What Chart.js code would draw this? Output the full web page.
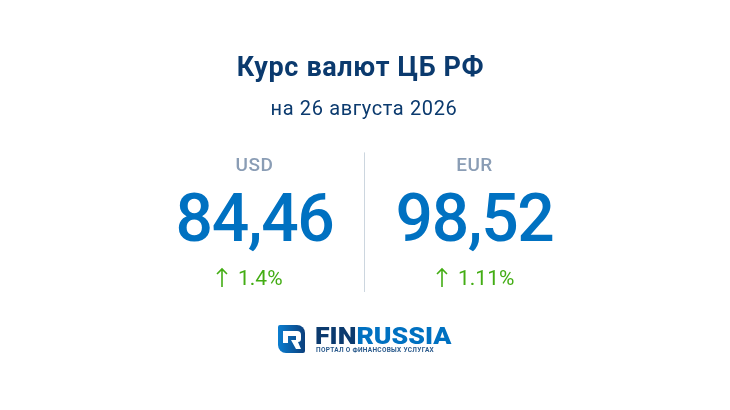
<!DOCTYPE html>
<html lang="ru">
<head>
<meta charset="utf-8">
<title>Курс валют ЦБ РФ</title>
<script src="https://cdn.jsdelivr.net/npm/chart.js@4"></script>
<style>
  html, body { margin: 0; padding: 0; background: #fff; }
  canvas { display: block; }
</style>
</head>
<body>
<canvas id="chart" width="730" height="410"></canvas>
<script>
const TITLE = 'Курс валют ЦБ РФ';
const SUBTITLE = 'на 26 августа 2026';
const currencies = ['USD', 'EUR'];
const rates = [84.46, 98.52];
const changes = [1.4, 1.11];

const NAVY = '#0b3a6e';
const BLUE = '#0071c1';
const GREY = '#8a9db5';
const GREEN = '#43ad14';

const fmtRate = (v) => v.toFixed(2).replace('.', ',');

/* ---- heading tweaks: tracking and the title sitting a bit left of centre ---- */
const heading = {
  id: 'heading',
  afterLayout(chart) {
    chart.titleBlock.left -= 7;
  },
  beforeDraw(chart) {
    chart.ctx.letterSpacing = '0.62px';
  },
};

/* ---- currency blocks ---- */
const blocks = {
  id: 'blocks',
  afterDraw(chart) {
    const { ctx, scales: { x } } = chart;
    ctx.save();
    ctx.textBaseline = 'alphabetic';
    currencies.forEach((cur, i) => {
      const cx = x.getPixelForValue(i) + 0.5;
      ctx.textAlign = 'center';
      ctx.fillStyle = GREY;
      ctx.font = '500 19px Roboto';
      ctx.letterSpacing = '0.5px';
      ctx.fillText(cur, cx, 171);
      ctx.fillStyle = BLUE;
      ctx.font = '500 66px Roboto';
      ctx.letterSpacing = '-1.4px';
      ctx.fillText(fmtRate(rates[i]), cx, 241);

      // arrow + percent
      ctx.fillStyle = GREEN;
      ctx.font = '400 21px Roboto';
      ctx.letterSpacing = '0px';
      const ax = cx - 32.5;
      ctx.textAlign = 'left';
      ctx.fillText(changes[i] + '%', ax + 16, 285);
      ctx.strokeStyle = GREEN;
      ctx.lineWidth = 1.6;
      ctx.beginPath();
      ctx.moveTo(ax, 287);
      ctx.lineTo(ax, 269);
      ctx.moveTo(ax - 5, 274);
      ctx.lineTo(ax, 269);
      ctx.lineTo(ax + 5, 274);
      ctx.stroke();
    });
    ctx.restore();
  },
};

/* ---- logo ---- */
const logo = {
  id: 'logo',
  afterDraw(chart) {
    const { ctx } = chart;
    ctx.save();
    ctx.letterSpacing = '0px';
    const g = ctx.createLinearGradient(278, 339, 305, 339);
    g.addColorStop(0, '#0b7ed0');
    g.addColorStop(1, '#0b3f7c');
    ctx.fillStyle = g;
    ctx.beginPath();
    ctx.roundRect(278, 325, 27, 28, [2, 8, 2, 8]);
    ctx.fill();

    ctx.fillStyle = '#fff';
    ctx.beginPath();
    ctx.moveTo(283, 331);
    ctx.lineTo(297, 331);
    ctx.quadraticCurveTo(301, 331, 301, 335);
    ctx.lineTo(301, 339);
    ctx.quadraticCurveTo(301, 342, 298, 342);
    ctx.lineTo(301, 349);
    ctx.lineTo(296, 349);
    ctx.lineTo(291, 340);
    ctx.lineTo(296, 340);
    ctx.lineTo(296, 336);
    ctx.lineTo(288, 336);
    ctx.lineTo(288, 343);
    ctx.lineTo(283, 343);
    ctx.closePath();
    ctx.fill();

    ctx.textAlign = 'left';
    ctx.textBaseline = 'alphabetic';
    ctx.save();
    ctx.translate(315, 344);
    ctx.scale(1.16, 1);
    ctx.font = '900 23px Roboto';
    ctx.fillStyle = NAVY;
    ctx.fillText('FIN', 0, 0);
    const w = ctx.measureText('FIN').width;
    ctx.fillStyle = BLUE;
    ctx.fillText('RUSSIA', w, 0);
    ctx.restore();
    ctx.fillStyle = '#2a5a8c';
    ctx.font = '700 6.5px Roboto';
    ctx.letterSpacing = '0.3px';
    ctx.fillText('ПОРТАЛ О ФИНАНСОВЫХ УСЛУГАХ', 316, 352);
    ctx.restore();
  },
};

new Chart(document.getElementById('chart'), {
  type: 'line',
  data: {
    labels: currencies,
    datasets: [{ data: rates, showLine: false, pointRadius: 0 }],
  },
  options: {
    responsive: false,
    animation: false,
    devicePixelRatio: 1,
    layout: { padding: { left: 144, right: 146, top: 53, bottom: 118 } },
    plugins: {
      legend: { display: false },
      tooltip: { enabled: false },
      title: {
        display: true,
        text: TITLE,
        color: NAVY,
        font: { family: 'Roboto', size: 27, weight: '700' },
        padding: { top: 0, bottom: 13 },
      },
      subtitle: {
        display: true,
        text: SUBTITLE,
        color: NAVY,
        font: { family: 'Roboto', size: 20, weight: '400' },
        padding: { top: 0, bottom: 30 },
      },
    },
    scales: {
      x: {
        offset: true,
        border: { display: false },
        ticks: { display: false },
        grid: {
          offset: true,
          drawTicks: false,
          color: (c) => (c.index === 1 ? '#ccd6df' : 'transparent'),
        },
      },
      y: { display: false },
    },
  },
  plugins: [heading, blocks, logo],
});
</script>
</body>
</html>
